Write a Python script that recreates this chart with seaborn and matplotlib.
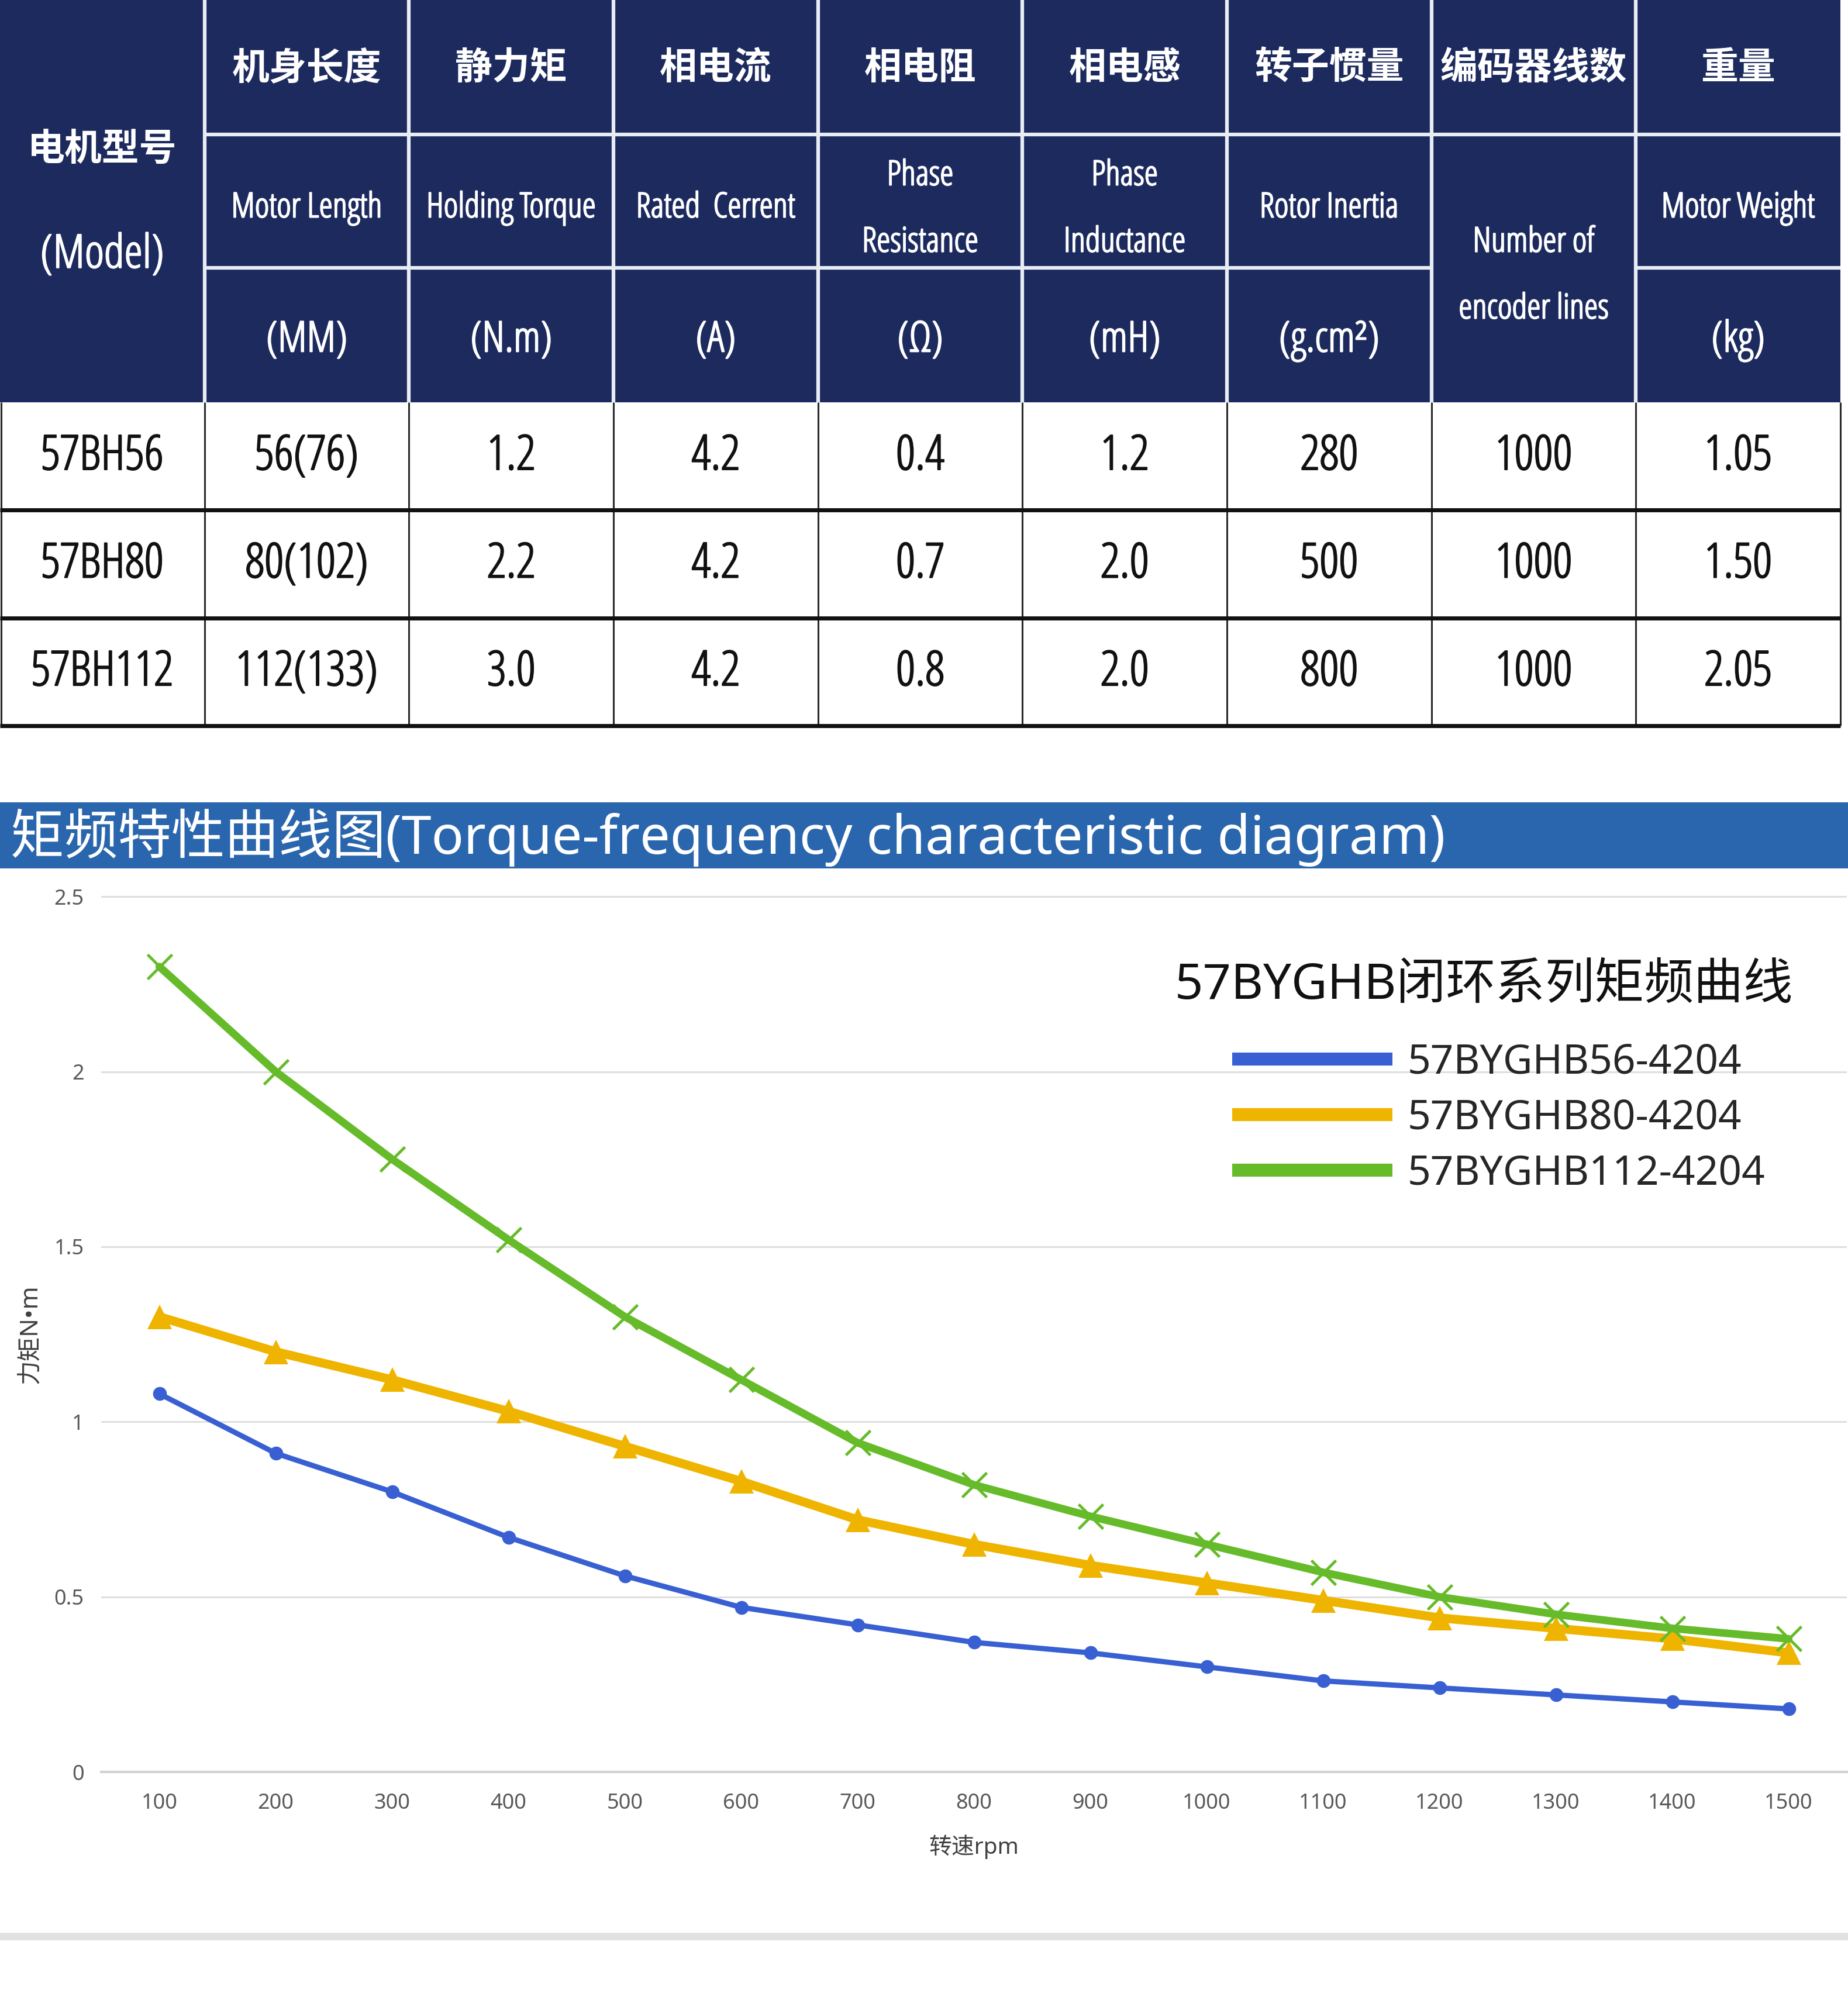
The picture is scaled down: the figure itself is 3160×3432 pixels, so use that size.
import os
import matplotlib
matplotlib.use("Agg")
import matplotlib.pyplot as plt
import matplotlib.font_manager as fm
import matplotlib.patheffects as pe
from matplotlib.font_manager import FontProperties
from matplotlib.lines import Line2D
from matplotlib.patches import Rectangle
import seaborn as sns
import pandas as pd

# ---------------- data ----------------
speed_rpm = [100, 200, 300, 400, 500, 600, 700, 800, 900, 1000, 1100, 1200, 1300, 1400, 1500]
torque_57BH56 = [1.08, 0.91, 0.80, 0.67, 0.56, 0.47, 0.42, 0.37, 0.34, 0.30, 0.26, 0.24, 0.22, 0.20, 0.18]
torque_57BH80 = [1.30, 1.20, 1.12, 1.03, 0.93, 0.83, 0.72, 0.65, 0.59, 0.54, 0.49, 0.44, 0.41, 0.38, 0.34]
torque_57BH112 = [2.30, 2.00, 1.75, 1.52, 1.30, 1.12, 0.94, 0.82, 0.73, 0.65, 0.57, 0.50, 0.45, 0.41, 0.38]
series_labels = ["57BYGHB56-4204", "57BYGHB80-4204", "57BYGHB112-4204"]
series_colors = ["#3860d2", "#efb400", "#66bb2a"]
series_markers = ["o", "^", "x"]
y_ticks = [0, 0.5, 1, 1.5, 2, 2.5]
y_tick_labels = ["0", "0.5", "1", "1.5", "2", "2.5"]
legend_title = "57BYGHB闭环系列矩频曲线"
x_label = "转速rpm"
y_label = "力矩N•m"
banner_title = "矩频特性曲线图(Torque-frequency characteristic diagram)"

table_model_header_cn = "电机型号"
table_model_header_en = "(Model)"
table_header_cn = ["机身长度", "静力矩", "相电流", "相电阻", "相电感", "转子惯量", "编码器线数", "重量"]
table_header_en = ["Motor Length", "Holding Torque", "Rated  Cerrent", "Phase\nResistance",
                   "Phase\nInductance", "Rotor Inertia", "Number of\nencoder lines", "Motor Weight"]
table_header_unit = ["(MM)", "(N.m)", "(A)", "(Ω)", "(mH)", "(g.cm²)", None, "(kg)"]
table_models = ["57BH56", "57BH80", "57BH112"]
table_rows = [
    ["56(76)", "1.2", "4.2", "0.4", "1.2", "280", "1000", "1.05"],
    ["80(102)", "2.2", "4.2", "0.7", "2.0", "500", "1000", "1.50"],
    ["112(133)", "3.0", "4.2", "0.8", "2.0", "800", "1000", "2.05"],
]

# ---------------- style / fonts ----------------
sns.set_theme(style="white")
plt.rcParams["font.family"] = ["Noto Sans", "Noto Sans CJK SC", "DejaVu Sans"]
CJK = ["Noto Sans CJK SC", "DejaVu Sans"]
LATIN_CJK = ["Noto Sans", "Noto Sans CJK SC", "DejaVu Sans"]


def wnum(w):
    if isinstance(w, (int, float)):
        return int(w)
    return fm.weight_dict.get(w, 400)


narrow_file = None
narrow_weight = 400
cands = [f for f in fm.fontManager.ttflist
         if f.style == "normal" and f.fname.lower().endswith((".ttf", ".otf"))
         and (f.stretch in ("condensed", "semi-condensed", "extra-condensed", "ultra-condensed")
              or "narrow" in f.name.lower())]
for fam in ["Liberation Sans Narrow", "Noto Sans", "Open Sans", "Roboto", "DejaVu Sans",
            "Liberation Sans", "Lato", "Inter"]:
    pool = [f for f in cands if f.name == fam]
    if pool:
        pool.sort(key=lambda f: (abs(wnum(f.weight) - 500),
                                 "extra" in os.path.basename(f.fname).lower(),
                                 "semi" in os.path.basename(f.fname).lower()))
        narrow_file = pool[0].fname
        narrow_weight = wnum(pool[0].weight)
        break

# thicken light condensed faces a little so they read as a regular weight
thick = 1.5 if narrow_weight < 400 else 0.6


def narrow(size):
    if narrow_file:
        return FontProperties(fname=narrow_file, size=size)
    return FontProperties(family="Liberation Sans", size=size)


def stroke(color):
    return [pe.withStroke(linewidth=thick, foreground=color)]


W, H = 3160, 3432
fig = plt.figure(figsize=(W / 100, H / 100), dpi=100, facecolor="white")
renderer = fig.canvas.get_renderer()


def fit_size(sample, target_px):
    t = fig.text(0, 0, sample, fontproperties=narrow(100))
    w = t.get_window_extent(renderer).width
    t.remove()
    return 100 * target_px / w


size_data = fit_size("57BH56", 210)
size_en = fit_size("Holding Torque", 290)
size_unit = fit_size("(N.m)", 140)
size_model = fit_size("(Model)", 212)
t1 = fig.text(0, 0, "Phase", fontproperties=narrow(size_en), linespacing=1.0)
t2 = fig.text(0, 0, "Phase\nPhase", fontproperties=narrow(size_en), linespacing=1.0)
pitch1 = t2.get_window_extent(renderer).height - t1.get_window_extent(renderer).height
t1.remove()
t2.remove()
ls_en = 1.15 * 114.0 / pitch1 if pitch1 > 0 else 2.0

# ---------------- table ----------------
tax = fig.add_axes([0, 1 - 1245 / H, 1, 1245 / H])
tax.set_xlim(0, W)
tax.set_ylim(1245, 0)
tax.axis("off")

NAVY = "#1c2a5e"
SEP = "#e8ecf4"
col_w = 3147 / 9
hdr_edges = [0, 230, 458, 688]
row_edges = [688, 872, 1057, 1241]

tax.add_patch(Rectangle((0, 0), 9 * col_w, hdr_edges[-1], facecolor=NAVY, edgecolor="none", zorder=1))
tax.add_patch(Rectangle((0, row_edges[0]), 9 * col_w, row_edges[-1] - row_edges[0],
                        facecolor="white", edgecolor="none", zorder=1))
for k in range(1, 9):
    tax.plot([k * col_w, k * col_w], [0, hdr_edges[-1]], color=SEP, lw=4.5, zorder=2,
             solid_capstyle="butt")
tax.plot([col_w, 9 * col_w], [hdr_edges[1], hdr_edges[1]], color=SEP, lw=4.5, zorder=2,
         solid_capstyle="butt")
tax.plot([col_w, 7 * col_w], [hdr_edges[2], hdr_edges[2]], color=SEP, lw=4.5, zorder=2,
         solid_capstyle="butt")
tax.plot([8 * col_w, 9 * col_w], [hdr_edges[2], hdr_edges[2]], color=SEP, lw=4.5, zorder=2,
         solid_capstyle="butt")
for k in range(0, 10):
    xk = max(k * col_w, 1.5)
    tax.plot([xk, xk], [row_edges[0], row_edges[-1]], color="#2a2a2a", lw=2.2, zorder=2,
             solid_capstyle="butt")
for yk in row_edges[1:]:
    tax.plot([0, 9 * col_w], [yk, yk], color="#111111", lw=5, zorder=3, solid_capstyle="butt")

# header text
tax.text(0.5 * col_w, 255, table_model_header_cn, color="white", fontsize=46, fontweight="bold",
         family=CJK, ha="center", va="center", zorder=4)
tax.text(0.5 * col_w, 437, table_model_header_en, color="white", fontproperties=narrow(size_model),
         ha="center", va="center", zorder=4, path_effects=stroke("white"))
for j in range(8):
    cx = (j + 1.5) * col_w
    tax.text(cx, 116, table_header_cn[j], color="white", fontsize=46, fontweight="bold",
             family=CJK, ha="center", va="center", zorder=4)
    if table_header_unit[j] is None:
        cy_en = 472
    elif "\n" in table_header_en[j]:
        cy_en = 358
    else:
        cy_en = 356
    tax.text(cx, cy_en, table_header_en[j], color="white", fontproperties=narrow(size_en),
             ha="center", va="center", linespacing=ls_en, zorder=4, path_effects=stroke("white"))
    if table_header_unit[j] is not None:
        tax.text(cx, 582, table_header_unit[j], color="white", fontproperties=narrow(size_unit),
                 ha="center", va="center", zorder=4, path_effects=stroke("white"))

# body text
for i, model in enumerate(table_models):
    cy = (row_edges[i] + row_edges[i + 1]) / 2 + 2
    tax.text(0.5 * col_w, cy, model, color="#111111", fontproperties=narrow(size_data),
             ha="center", va="center", zorder=4, path_effects=stroke("#111111"))
    for j, val in enumerate(table_rows[i]):
        tax.text((j + 1.5) * col_w, cy, val, color="#111111", fontproperties=narrow(size_data),
                 ha="center", va="center", zorder=4, path_effects=stroke("#111111"))

# ---------------- banner ----------------
bax = fig.add_axes([0, 1 - 1485 / H, 1, 113 / H])
bax.set_facecolor("#2a66ad")
bax.set_xticks([])
bax.set_yticks([])
for s in bax.spines.values():
    s.set_visible(False)
bax.text(18 / W, 0.47, banner_title, transform=bax.transAxes, color="white", fontsize=66,
         family=LATIN_CJK, ha="left", va="center")

# ---------------- chart ----------------
ax = fig.add_axes([173 / W, 1 - 3030 / H, 2985 / W, 1498 / H])
df = pd.DataFrame({
    "speed": speed_rpm * 3,
    "torque": torque_57BH56 + torque_57BH80 + torque_57BH112,
    "model": sum([[lab] * len(speed_rpm) for lab in series_labels], []),
})
line_widths = [6.5, 11, 9.5]
marker_sizes = [17, 30, 30]
marker_ew = [0, 0, 3.5]
for lab, c, m, lw, ms, mew in zip(series_labels, series_colors, series_markers, line_widths,
                                  marker_sizes, marker_ew):
    sub = df[df["model"] == lab]
    sns.lineplot(data=sub, x="speed", y="torque", ax=ax, color=c, marker=m, markersize=ms,
                 linewidth=lw, markeredgewidth=mew, markeredgecolor=c, markerfacecolor=c,
                 legend=False, zorder=3)

ax.set_xlim(50, 1550)
ax.set_ylim(0, 2.502)
ax.set_xticks(speed_rpm)
ax.set_xticklabels([str(v) for v in speed_rpm])
ax.set_yticks(y_ticks)
ax.set_yticklabels(y_tick_labels)
ax.yaxis.grid(True, color="#dcdcdc", lw=2)
ax.xaxis.grid(False)
ax.set_axisbelow(True)
for side in ["top", "right", "left"]:
    ax.spines[side].set_visible(False)
ax.spines["bottom"].set_color("#d2d2d2")
ax.spines["bottom"].set_linewidth(3)
ax.tick_params(axis="both", length=0, labelsize=26, labelcolor="#595959")
ax.tick_params(axis="y", pad=21)
ax.tick_params(axis="x", pad=26)
ax.set_xlabel(x_label, fontsize=28, color="#404040", family=LATIN_CJK, labelpad=25)
ax.set_ylabel(y_label, fontsize=30, color="#404040", family=LATIN_CJK, labelpad=15)

handles = [Line2D([], [], color=c, lw=16, solid_capstyle="butt") for c in series_colors]
ax.legend(handles, series_labels, loc="upper left",
          bbox_to_anchor=(2107 / W, 1 - 1782 / H), bbox_transform=fig.transFigure,
          frameon=False, prop=FontProperties(family="Noto Sans", size=50),
          handlelength=3.95, handletextpad=0.37, labelspacing=0.36,
          borderpad=0, borderaxespad=0)
fig.text(2009 / W, 1 - 1686 / H, legend_title, fontsize=61, color="#111111",
         family=LATIN_CJK, ha="left", va="center")

# bottom separator band
fig.patches.append(Rectangle((0, 1 - 3318 / H), 1, 13 / H, transform=fig.transFigure,
                             facecolor="#e2e2e2", edgecolor="none"))

fig.savefig("out.png", dpi=100, facecolor="white")
